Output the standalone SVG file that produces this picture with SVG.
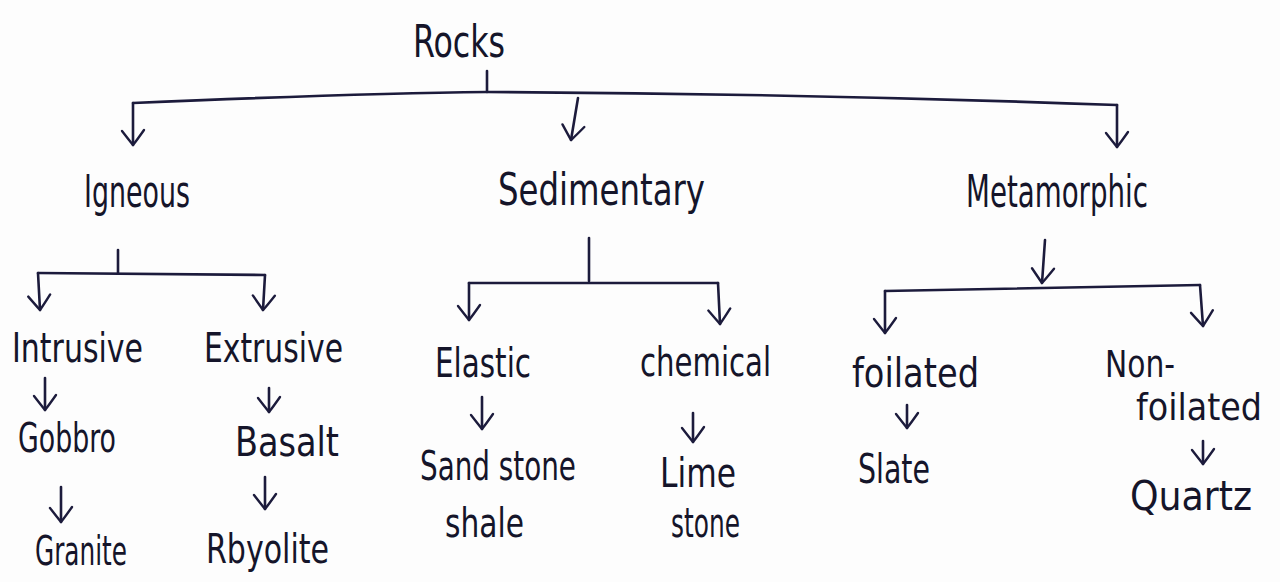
<svg xmlns="http://www.w3.org/2000/svg" width="1280" height="582" viewBox="0 0 1280 582">
  <style>
    .lbl { font-family: "Liberation Sans Narrow", "DejaVu Sans Condensed", "Liberation Sans", sans-serif; fill: #15152a; font-size: 41px; }
    .big { font-size: 45px; }
    .two { font-size: 38px; }
    .wire { fill: none; stroke: #1c1b3c; stroke-width: 2.6; stroke-linecap: round; stroke-linejoin: round; }
    .arr { marker-end: url(#vhead); }
  </style>
  <defs>
    <!-- open, slightly curved hand-drawn arrowhead -->
    <marker id="vhead" markerUnits="userSpaceOnUse" markerWidth="30" markerHeight="30" refX="0" refY="0" orient="auto" overflow="visible">
      <path d="M-15,-11 Q-5,-4 0,0 Q-5,4 -14,11" fill="none" stroke="#1c1b3c" stroke-width="2.4" stroke-linecap="round" stroke-linejoin="round"/>
    </marker>
  </defs>

  <rect width="1280" height="582" fill="#fdfdfd"/>

  <!-- connectors -->
  <g id="connectors" class="wire">
    <!-- root -->
    <path d="M487,71 L487,92"/>
    <path d="M133,103 C250,98 380,93 487,92 C700,93 950,99 1117,105"/>
    <path class="arr" d="M133,103 L133,145"/>
    <path class="arr" d="M578,98 L571,140"/>
    <path class="arr" d="M1117,105 L1117,147"/>
    <!-- igneous -->
    <path d="M118,250 L118,273"/>
    <path d="M38,273 L265,275"/>
    <path class="arr" d="M38,273 L40,310"/>
    <path class="arr" d="M265,275 L263,310"/>
    <path class="arr" d="M45,378 L45,410"/>
    <path class="arr" d="M269,388 L269,412"/>
    <path class="arr" d="M61,487 L61,522"/>
    <path class="arr" d="M265,477 L265,509"/>
    <!-- sedimentary -->
    <path d="M589,238 L589,281"/>
    <path d="M469,283 L718,283"/>
    <path class="arr" d="M469,283 L469,320"/>
    <path class="arr" d="M718,283 L720,324"/>
    <path class="arr" d="M482,397 L482,429"/>
    <path class="arr" d="M693,413 L693,442"/>
    <!-- metamorphic -->
    <path class="arr" d="M1045,240 L1042,283"/>
    <path d="M885,291 C1000,288 1100,286 1200,285"/>
    <path class="arr" d="M885,291 L885,333"/>
    <path class="arr" d="M1200,285 L1203,326"/>
    <path class="arr" d="M907,405 L907,428"/>
    <path class="arr" d="M1203,441 L1203,464"/>
  </g>

  <g id="rocks"><text class="lbl big" x="413" y="57" textLength="92" lengthAdjust="spacingAndGlyphs">Rocks</text></g>

  <g id="igneous"><text class="lbl big" x="84" y="207" textLength="106" lengthAdjust="spacingAndGlyphs">Igneous</text></g>
  <g id="sedimentary"><text class="lbl big" x="498" y="205" textLength="207" lengthAdjust="spacingAndGlyphs">Sedimentary</text></g>
  <g id="metamorphic"><text class="lbl big" x="966" y="207" textLength="182" lengthAdjust="spacingAndGlyphs">Metamorphic</text></g>

  <g id="intrusive"><text class="lbl" x="12" y="362" textLength="131" lengthAdjust="spacingAndGlyphs">Intrusive</text></g>
  <g id="extrusive"><text class="lbl" x="204" y="362" textLength="139" lengthAdjust="spacingAndGlyphs">Extrusive</text></g>
  <g id="gobbro"><text class="lbl" x="18" y="452" textLength="98" lengthAdjust="spacingAndGlyphs">Gobbro</text></g>
  <g id="basalt"><text class="lbl" x="235" y="456" textLength="104" lengthAdjust="spacingAndGlyphs">Basalt</text></g>
  <g id="granite"><text class="lbl" x="35" y="565" textLength="92" lengthAdjust="spacingAndGlyphs">Granite</text></g>
  <g id="rbyolite"><text class="lbl" x="206" y="563" textLength="123" lengthAdjust="spacingAndGlyphs">Rbyolite</text></g>

  <g id="elastic"><text class="lbl" x="435" y="377" textLength="96" lengthAdjust="spacingAndGlyphs">Elastic</text></g>
  <g id="chemical"><text class="lbl" x="640" y="376" textLength="131" lengthAdjust="spacingAndGlyphs">chemical</text></g>
  <g id="sandstone-shale">
    <text class="lbl" x="420" y="480" textLength="156" lengthAdjust="spacingAndGlyphs">Sand stone</text>
    <text class="lbl" x="445" y="537" textLength="79" lengthAdjust="spacingAndGlyphs">shale</text>
  </g>
  <g id="limestone">
    <text class="lbl" x="660" y="487" textLength="76" lengthAdjust="spacingAndGlyphs">Lime</text>
    <text class="lbl" x="671" y="537" textLength="69" lengthAdjust="spacingAndGlyphs">stone</text>
  </g>

  <g id="foilated"><text class="lbl" x="852" y="387" textLength="127" lengthAdjust="spacingAndGlyphs">foilated</text></g>
  <g id="slate"><text class="lbl" x="858" y="483" textLength="72" lengthAdjust="spacingAndGlyphs">Slate</text></g>
  <g id="non-foilated">
    <text class="lbl two" x="1105" y="377" textLength="70" lengthAdjust="spacingAndGlyphs">Non-</text>
    <text class="lbl two" x="1136" y="420" textLength="126" lengthAdjust="spacingAndGlyphs">foilated</text>
  </g>
  <g id="quartz"><text class="lbl" x="1130" y="510" textLength="122" lengthAdjust="spacingAndGlyphs">Quartz</text></g>
</svg>
